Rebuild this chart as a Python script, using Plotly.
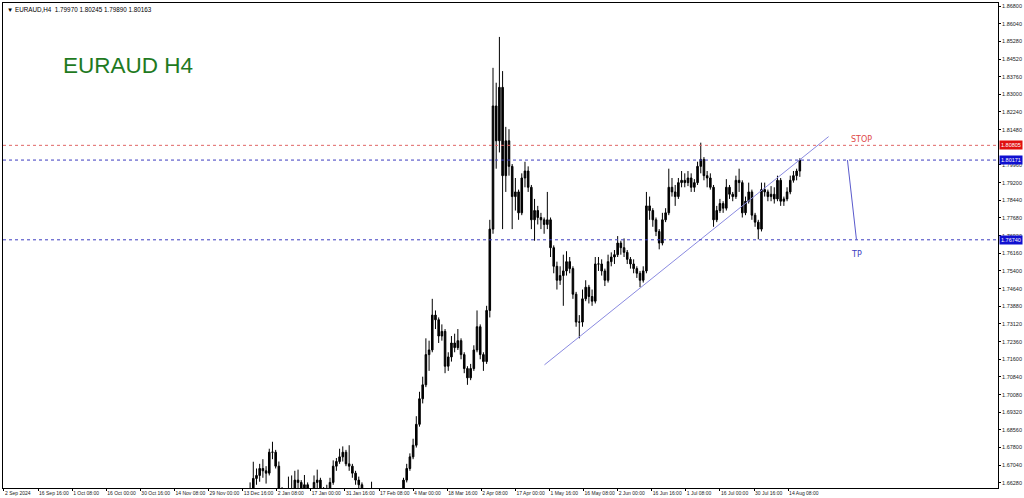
import plotly.graph_objects as go

# ---------------- data ----------------
first_bar = 74  # trading-day index of first candle (0 = 2 Sep 2024)

open_ = [1.6540, 1.6550, 1.6560, 1.6570, 1.6600, 1.6647, 1.6660, 1.6690, 1.6680, 1.6670,
         1.6760, 1.6760, 1.6700, 1.6600, 1.6560, 1.6570, 1.6600, 1.6590, 1.6640, 1.6630,
         1.6590, 1.6620, 1.6580, 1.6570, 1.6630, 1.6640, 1.6590, 1.6570, 1.6580, 1.6630,
         1.6700, 1.6720, 1.6740, 1.6760, 1.6710, 1.6700, 1.6670, 1.6640, 1.6620, 1.6580,
         1.6570, 1.6575, 1.6590, 1.6575, 1.6565, 1.6560, 1.6565, 1.6570, 1.6575, 1.6570,
         1.6560, 1.6575, 1.6640, 1.6690, 1.6740, 1.6790, 1.6880, 1.6990, 1.7050, 1.7180,
         1.7200, 1.7350, 1.7330, 1.7260, 1.7280, 1.7130, 1.7170, 1.7230, 1.7210, 1.7240,
         1.7180, 1.7120, 1.7080, 1.7120, 1.7200, 1.7300, 1.7180, 1.7150, 1.7370, 1.7720,
         1.8250, 1.8100, 1.8330, 1.7950, 1.8100, 1.7990, 1.7860, 1.7880, 1.7790, 1.7940,
         1.7970, 1.7900, 1.7760, 1.7800, 1.7770, 1.7760, 1.7740, 1.7760, 1.7640, 1.7560,
         1.7500, 1.7520, 1.7540, 1.7580, 1.7550, 1.7440, 1.7320, 1.7320, 1.7420, 1.7470,
         1.7430, 1.7410, 1.7570, 1.7570, 1.7540, 1.7500, 1.7580, 1.7600, 1.7610, 1.7660,
         1.7640, 1.7620, 1.7590, 1.7570, 1.7550, 1.7530, 1.7500, 1.7540, 1.7820, 1.7800,
         1.7760, 1.7710, 1.7660, 1.7760, 1.7790, 1.7900, 1.7880, 1.7860, 1.7920, 1.7930,
         1.7920, 1.7940, 1.7900, 1.7920, 1.7990, 1.8020, 1.7950, 1.7940, 1.7900, 1.7760,
         1.7800, 1.7830, 1.7810, 1.7900, 1.7870, 1.7860, 1.7930, 1.7920, 1.7790, 1.7840,
         1.7880, 1.7780, 1.7750, 1.7720, 1.7890, 1.7880, 1.7860, 1.7870, 1.7850, 1.7930,
         1.7840, 1.7850, 1.7880, 1.7930, 1.7950, 1.7970]

high = [1.6580, 1.6590, 1.6600, 1.6630, 1.6719, 1.6690, 1.6710, 1.6730, 1.6700, 1.6775,
        1.6805, 1.6770, 1.6720, 1.6610, 1.6600, 1.6655, 1.6660, 1.6680, 1.6685, 1.6640,
        1.6662, 1.6630, 1.6600, 1.6660, 1.6685, 1.6650, 1.6610, 1.6620, 1.6650, 1.6725,
        1.6735, 1.6775, 1.6785, 1.6770, 1.6790, 1.6710, 1.6680, 1.6655, 1.6630, 1.6600,
        1.6600, 1.6633, 1.6600, 1.6595, 1.6585, 1.6590, 1.6595, 1.6600, 1.6595, 1.6590,
        1.6600, 1.6650, 1.6710, 1.6755, 1.6818, 1.6915, 1.7020, 1.7085, 1.7250, 1.7240,
        1.7420, 1.7370, 1.7340, 1.7310, 1.7290, 1.7190, 1.7260, 1.7270, 1.7290, 1.7250,
        1.7190, 1.7130, 1.7140, 1.7220, 1.7370, 1.7310, 1.7190, 1.7390, 1.7760, 1.8414,
        1.8350, 1.8547, 1.8400, 1.8160, 1.8150, 1.8000, 1.7940, 1.7890, 1.7960, 1.8010,
        1.7990, 1.7910, 1.7850, 1.7820, 1.7790, 1.7770, 1.7880, 1.7770, 1.7650, 1.7580,
        1.7560, 1.7610, 1.7625, 1.7600, 1.7560, 1.7450, 1.7350, 1.7460, 1.7500, 1.7480,
        1.7460, 1.7600, 1.7600, 1.7590, 1.7550, 1.7610, 1.7620, 1.7630, 1.7690, 1.7670,
        1.7680, 1.7630, 1.7600, 1.7590, 1.7560, 1.7540, 1.7560, 1.7880, 1.7860, 1.7810,
        1.7770, 1.7720, 1.7790, 1.7810, 1.7980, 1.7940, 1.7910, 1.7940, 1.7970, 1.7960,
        1.7970, 1.7960, 1.7935, 1.8010, 1.8092, 1.8030, 1.7970, 1.7960, 1.7910, 1.7820,
        1.7850, 1.7840, 1.7935, 1.7910, 1.7880, 1.7950, 1.7980, 1.7930, 1.7860, 1.7920,
        1.7890, 1.7790, 1.7760, 1.7920, 1.7920, 1.7890, 1.7905, 1.7900, 1.7950, 1.7940,
        1.7860, 1.7900, 1.7950, 1.7970, 1.7980, 1.80245]

low = [1.6530, 1.6535, 1.6545, 1.6560, 1.6590, 1.6620, 1.6633, 1.6650, 1.6625, 1.6660,
       1.6730, 1.6690, 1.6580, 1.6540, 1.6540, 1.6560, 1.6570, 1.6580, 1.6600, 1.6570,
       1.6580, 1.6560, 1.6550, 1.6560, 1.6600, 1.6570, 1.6550, 1.6555, 1.6570, 1.6620,
       1.6680, 1.6710, 1.6720, 1.6700, 1.6680, 1.6650, 1.6620, 1.6590, 1.6560, 1.6550,
       1.6555, 1.6560, 1.6550, 1.6545, 1.6540, 1.6545, 1.6550, 1.6555, 1.6550, 1.6540,
       1.6550, 1.6570, 1.6630, 1.6680, 1.6730, 1.6780, 1.6870, 1.6970, 1.7040, 1.7110,
       1.7190, 1.7290, 1.7230, 1.7240, 1.7100, 1.7110, 1.7150, 1.7190, 1.7200, 1.7160,
       1.7100, 1.7050, 1.7070, 1.7110, 1.7190, 1.7160, 1.7110, 1.7140, 1.7340, 1.7700,
       1.7980, 1.8050, 1.7720, 1.7880, 1.7950, 1.7720, 1.7800, 1.7760, 1.7780, 1.7900,
       1.7880, 1.7720, 1.7670, 1.7740, 1.7720, 1.7700, 1.7720, 1.7600, 1.7530, 1.7460,
       1.7480, 1.7390, 1.7520, 1.7530, 1.7420, 1.7300, 1.7250, 1.7300, 1.7410, 1.7400,
       1.7390, 1.7400, 1.7540, 1.7520, 1.7475, 1.7490, 1.7560, 1.7570, 1.7600, 1.7610,
       1.7600, 1.7570, 1.7550, 1.7530, 1.7510, 1.7470, 1.7490, 1.7530, 1.7760, 1.7730,
       1.7690, 1.7633, 1.7650, 1.7750, 1.7780, 1.7860, 1.7820, 1.7850, 1.7900, 1.7900,
       1.7905, 1.7880, 1.7880, 1.7910, 1.7960, 1.7930, 1.7900, 1.7890, 1.7730, 1.7750,
       1.7790, 1.7790, 1.7800, 1.7850, 1.7840, 1.7850, 1.7880, 1.7770, 1.7780, 1.7830,
       1.7760, 1.7730, 1.7676, 1.7710, 1.7860, 1.7840, 1.7840, 1.7830, 1.7840, 1.7820,
       1.7820, 1.7840, 1.7870, 1.7920, 1.7930, 1.7945]

close = [1.6550, 1.6560, 1.6570, 1.6600, 1.6647, 1.6660, 1.6690, 1.6680, 1.6670, 1.6760,
         1.6760, 1.6700, 1.6600, 1.6560, 1.6570, 1.6600, 1.6590, 1.6640, 1.6630, 1.6590,
         1.6620, 1.6580, 1.6570, 1.6630, 1.6640, 1.6590, 1.6570, 1.6580, 1.6630, 1.6700,
         1.6720, 1.6740, 1.6760, 1.6710, 1.6700, 1.6670, 1.6640, 1.6620, 1.6580, 1.6570,
         1.6575, 1.6590, 1.6575, 1.6565, 1.6560, 1.6565, 1.6570, 1.6575, 1.6570, 1.6560,
         1.6575, 1.6640, 1.6690, 1.6740, 1.6790, 1.6880, 1.6990, 1.7050, 1.7180, 1.7200,
         1.7350, 1.7330, 1.7260, 1.7280, 1.7130, 1.7170, 1.7230, 1.7210, 1.7240, 1.7180,
         1.7120, 1.7080, 1.7120, 1.7200, 1.7300, 1.7180, 1.7150, 1.7370, 1.7720, 1.8250,
         1.8100, 1.8330, 1.7950, 1.8100, 1.7990, 1.7860, 1.7880, 1.7790, 1.7940, 1.7970,
         1.7900, 1.7760, 1.7800, 1.7770, 1.7760, 1.7740, 1.7760, 1.7640, 1.7560, 1.7500,
         1.7520, 1.7540, 1.7580, 1.7550, 1.7440, 1.7320, 1.7320, 1.7420, 1.7470, 1.7430,
         1.7410, 1.7570, 1.7570, 1.7540, 1.7500, 1.7580, 1.7600, 1.7610, 1.7660, 1.7640,
         1.7620, 1.7590, 1.7570, 1.7550, 1.7530, 1.7500, 1.7540, 1.7820, 1.7800, 1.7760,
         1.7710, 1.7660, 1.7760, 1.7790, 1.7900, 1.7880, 1.7860, 1.7920, 1.7930, 1.7920,
         1.7940, 1.7900, 1.7920, 1.7990, 1.8020, 1.7950, 1.7940, 1.7900, 1.7760, 1.7800,
         1.7830, 1.7810, 1.7900, 1.7870, 1.7860, 1.7930, 1.7920, 1.7790, 1.7840, 1.7880,
         1.7780, 1.7750, 1.7720, 1.7890, 1.7880, 1.7860, 1.7870, 1.7850, 1.7930, 1.7840,
         1.7850, 1.7880, 1.7930, 1.7950, 1.7970, 1.80163]

bars = list(range(first_bar, first_bar + len(close)))

# x-axis time labels (every 64 H4 bars = 10.667 trading days)
x_tick_labels = ["2 Sep 2024", "16 Sep 16:00", "1 Oct 08:00", "16 Oct 00:00", "30 Oct 16:00",
                 "14 Nov 08:00", "29 Nov 00:00", "13 Dec 16:00", "2 Jan 08:00", "17 Jan 00:00",
                 "31 Jan 16:00", "17 Feb 08:00", "4 Mar 00:00", "18 Mar 16:00", "2 Apr 08:00",
                 "17 Apr 00:00", "1 May 16:00", "16 May 08:00", "2 Jun 00:00", "16 Jun 16:00",
                 "1 Jul 08:00", "16 Jul 00:00", "30 Jul 16:00", "14 Aug 08:00"]
x_tick_step = 64 / 6

# price scale labels (1.80720 sits under the STOP price box, so it is not shown)
y_tick_labels = ["1.66280", "1.67040", "1.67800", "1.68560", "1.69320", "1.70080", "1.70840",
                 "1.71600", "1.72360", "1.73120", "1.73880", "1.74640", "1.75400", "1.76160",
                 "1.76920", "1.77680", "1.78440", "1.79200", "1.79960", "1.81480",
                 "1.82240", "1.83000", "1.83760", "1.84520", "1.85280", "1.86040", "1.86800"]

stop_level = 1.80805
entry_level = 1.80171
tp_level = 1.76740

trend_x = [169.1, 258.0]
trend_y = [1.7136, 1.8118]
tp_arrow_x = [263.9, 266.7]
tp_arrow_y = [1.8017, 1.7676]

header = "\u25bc EURAUD,H4  1.79970 1.80245 1.79890 1.80163"
title = "EURAUD H4"

# ---------------- figure ----------------
fig = go.Figure()

fig.add_trace(go.Candlestick(
    x=bars, open=open_, high=high, low=low, close=close,
    increasing=dict(line=dict(color="black", width=1), fillcolor="black"),
    decreasing=dict(line=dict(color="black", width=1), fillcolor="black"),
    whiskerwidth=0, showlegend=False, hoverinfo="skip",
))

fig.add_trace(go.Scatter(x=trend_x, y=trend_y, mode="lines",
                         line=dict(color="#8a8ae0", width=1), showlegend=False, hoverinfo="skip"))
fig.add_trace(go.Scatter(x=tp_arrow_x, y=tp_arrow_y, mode="lines",
                         line=dict(color="#5a5acc", width=1), showlegend=False, hoverinfo="skip"))

# horizontal levels
for lvl, col in [(stop_level, "#e06666"), (entry_level, "#3c3cc0"), (tp_level, "#3c3cc0")]:
    fig.add_shape(type="line", xref="paper", x0=0, x1=1, yref="y", y0=lvl, y1=lvl,
                  line=dict(color=col, width=1, dash="dot"))

# price boxes on the axis
for lvl, bg in [(stop_level, "#e01010"), (entry_level, "#1010d0"), (tp_level, "#1010d0")]:
    fig.add_annotation(xref="paper", x=1.0, xanchor="left", y=lvl, yref="y",
                       text=f"{lvl:.5f}", showarrow=False, bgcolor=bg,
                       font=dict(color="white", size=5.5, family="Liberation Sans"),
                       borderpad=1, xshift=1)

fig.add_annotation(x=268.2, y=1.8105, text="STOP", showarrow=False,
                   font=dict(color="#e04848", size=8, family="DejaVu Sans"))
fig.add_annotation(x=266.8, y=1.7612, text="TP", showarrow=False,
                   font=dict(color="#3c3cc0", size=8, family="DejaVu Sans"))

fig.add_annotation(xref="paper", yref="paper", x=0.002, y=0.997, xanchor="left", yanchor="top",
                   text=header, showarrow=False,
                   font=dict(color="black", size=6.3, family="Liberation Sans"))
fig.add_annotation(xref="paper", yref="paper", x=0.058, y=0.872, xanchor="left", yanchor="middle",
                   text=title, showarrow=False,
                   font=dict(color="#1f7a1f", size=22.5, family="Liberation Sans"))

fig.update_layout(
    width=1024, height=498,
    margin=dict(l=2, r=24, t=3, b=9),
    paper_bgcolor="white", plot_bgcolor="white",
    xaxis=dict(
        range=[-0.31, 311.0], showgrid=False, zeroline=False,
        rangeslider=dict(visible=False),
        tickmode="array",
        tickvals=[i * x_tick_step for i in range(len(x_tick_labels))],
        ticktext=x_tick_labels,
        tickangle=0,
        ticks="outside", ticklen=2, tickcolor="black",
        ticklabelposition="outside right",
        tickfont=dict(size=5, family="Liberation Sans", color="#222"),
        showline=True, linecolor="black", linewidth=1, mirror=True,
    ),
    yaxis=dict(
        range=[1.6606, 1.8693], side="right", showgrid=False, zeroline=False,
        tickmode="array",
        tickvals=[float(t) for t in y_tick_labels],
        ticktext=y_tick_labels,
        ticks="outside", ticklen=2, tickcolor="black",
        tickfont=dict(size=5.5, family="Liberation Sans", color="#222"),
        showline=True, linecolor="black", linewidth=1, mirror=True,
    ),
)

fig.write_html("out.html", config={"displayModeBar": False},
               post_script="document.body.style.margin='0';")
